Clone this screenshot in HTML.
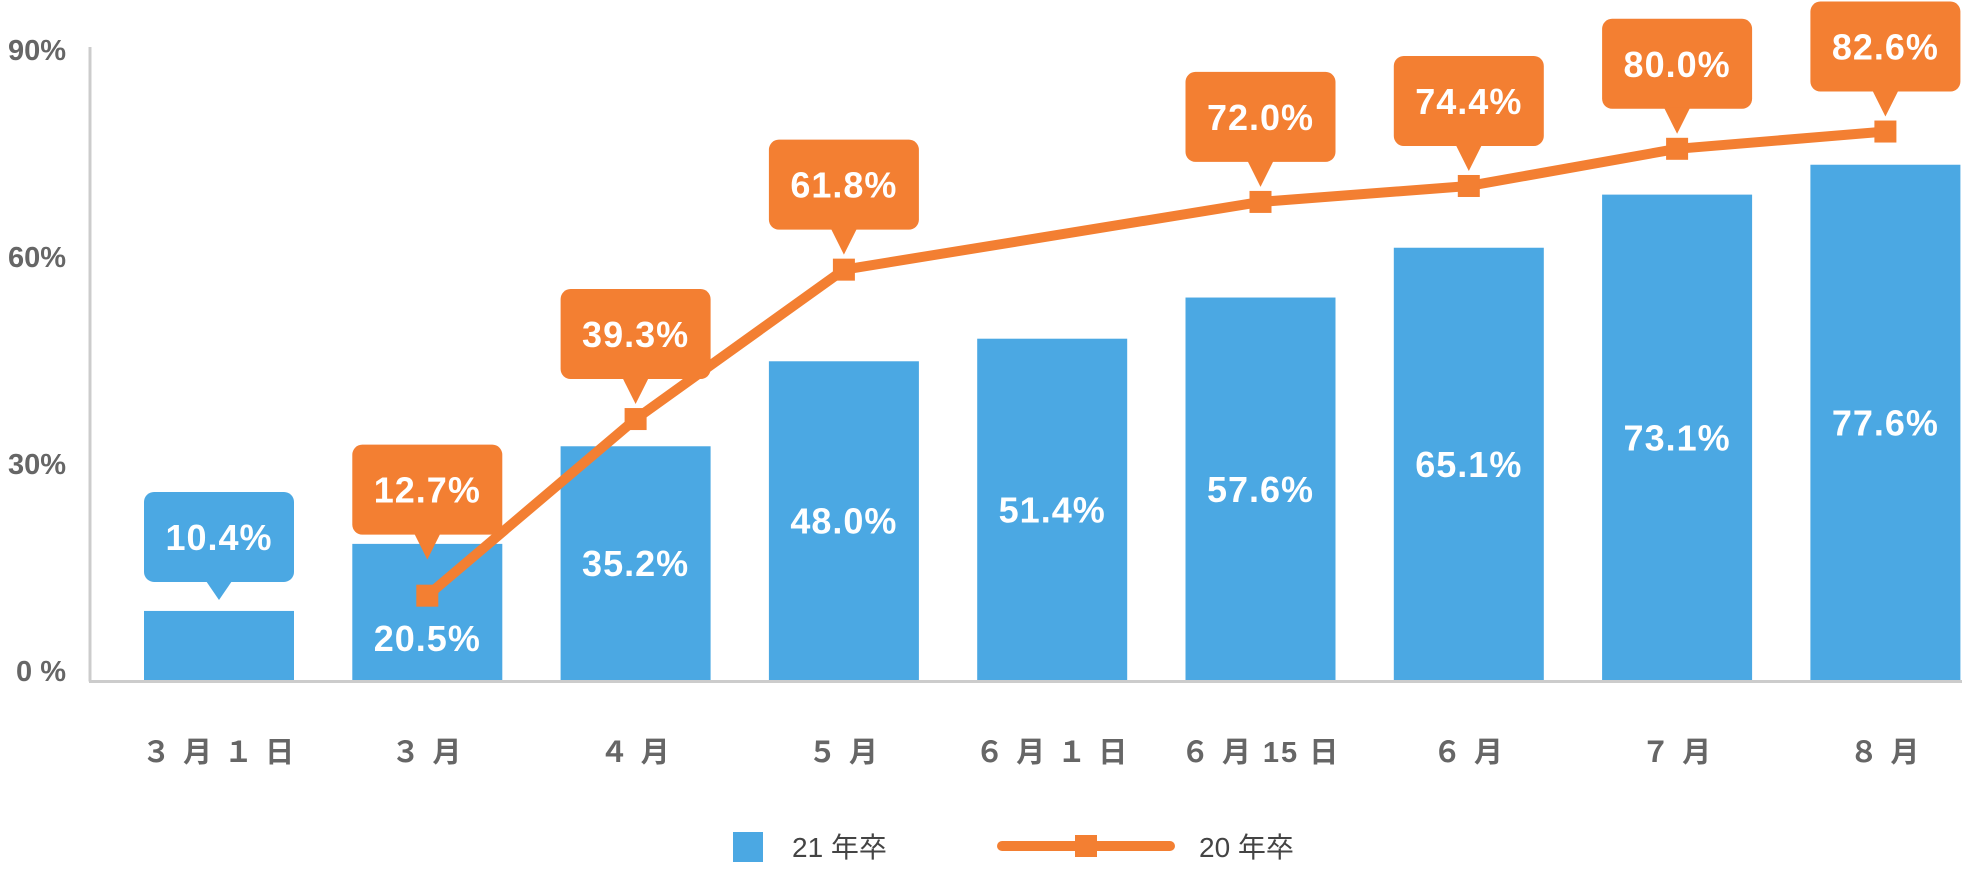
<!DOCTYPE html>
<html><head><meta charset="utf-8"><style>
html,body{margin:0;padding:0;background:#fff;}
svg{display:block;font-family:"Liberation Sans","Noto Sans CJK JP",sans-serif;}
</style></head><body>
<svg id="chart" width="1962" height="870" viewBox="0 0 1962 870" xmlns="http://www.w3.org/2000/svg"></svg>
<script>
const categories = ["３ 月 １ 日","３ 月","４ 月","５ 月","６ 月 １ 日","６ 月 15 日","６ 月","７ 月","８ 月"];
const bars21 = [10.4,20.5,35.2,48.0,51.4,57.6,65.1,73.1,77.6];
const line20 = [null,12.7,39.3,61.8,null,72.0,74.4,80.0,82.6];
const yTicks = [0,30,60,90];
const yTickLabels = ["0 %","30%","60%","90%"];

const NS="http://www.w3.org/2000/svg";
const svg=document.getElementById('chart');
const base=680, ppu=6.64, x0=219, step=208.3, bw=150;
const BLUE="#4BA8E3", ORANGE="#F37F32";
function xs(i){return x0+i*step;}
function ys(v){return base-v*ppu;}
function yLab(v){return 671-v*6.9;}
function mk(tag,attrs,parent){const e=document.createElementNS(NS,tag);for(const k in attrs)e.setAttribute(k,attrs[k]);(parent||svg).appendChild(e);return e;}

let ax=mk('line',{x1:90,y1:47,x2:90,y2:base+1.5,stroke:'#cccccc','stroke-width':3});


let bx=mk('line',{x1:89,y1:base+1.5,x2:1962,y2:base+1.5,stroke:'#cccccc','stroke-width':3});



yTicks.forEach((v,i)=>{
  const t=mk('text',{x:66,y:yLab(v)+10,'text-anchor':'end','font-size':29,'font-weight':'bold',fill:'#666'});
  t.textContent=yTickLabels[i];
  
  
});

categories.forEach((c,i)=>{
  const t=mk('text',{x:xs(i),y:762,'text-anchor':'middle','font-size':29,'font-weight':'bold',fill:'#666','letter-spacing':2});
  t.textContent=c;
  
  
});

bars21.forEach((v,i)=>{
  const r=mk('rect',{x:xs(i)-bw/2,y:ys(v),width:bw,height:base-ys(v),fill:BLUE});
  
  
});

function callout(cx,anchorY,color,label,boxGap,tipGap){
  const g=mk('g',{});
  
  
  const bb=anchorY-boxGap, h=90, w=150;
  mk('rect',{x:cx-w/2,y:bb-h,width:w,height:h,rx:10,fill:color},g);
  mk('polygon',{points:`${cx-13},${bb-1} ${cx+13},${bb-1} ${cx},${anchorY-tipGap}`,fill:color},g);
  const t=mk('text',{x:cx,y:bb-h/2+13,'text-anchor':'middle','font-size':36,'font-weight':'bold',fill:'#fff','letter-spacing':1},g);
  t.textContent=label;
}

bars21.forEach((v,i)=>{
  const lbl=v.toFixed(1)+'%';
  if(i===0){callout(xs(i),ys(v),BLUE,lbl,29,11);return;}
  let cy=(ys(v)+base)/2;
  if(i===1) cy+=26;
  const t=mk('text',{x:xs(i),y:cy+13,'text-anchor':'middle','font-size':36,'font-weight':'bold',fill:'#fff','letter-spacing':1});
  t.textContent=lbl;
  
  
});

const pts=[];
line20.forEach((v,i)=>{if(v!==null)pts.push([xs(i),ys(v),v,i]);});
const pl=mk('polyline',{points:pts.map(p=>p[0]+','+p[1]).join(' '),fill:'none',stroke:ORANGE,'stroke-width':10,'stroke-linejoin':'round'});


pts.forEach(p=>{
  const m=mk('rect',{x:p[0]-11,y:p[1]-11,width:22,height:22,fill:ORANGE});
  
  
  if(p[3]===1) callout(p[0],p[1],ORANGE,p[2].toFixed(1)+'%',61,36);
  else callout(p[0],p[1],ORANGE,p[2].toFixed(1)+'%',40,15);
});

const lg=mk('g',{});


mk('rect',{x:733,y:832,width:30,height:30,fill:BLUE},lg);
let lt1=mk('text',{x:792,y:857,'font-size':28,fill:'#444'},lg);lt1.textContent='21 年卒';
mk('line',{x1:1002,y1:846,x2:1170,y2:846,stroke:ORANGE,'stroke-width':10,'stroke-linecap':'round'},lg);
mk('rect',{x:1075,y:835,width:22,height:22,fill:ORANGE},lg);
let lt2=mk('text',{x:1199,y:857,'font-size':28,fill:'#444'},lg);lt2.textContent='20 年卒';
</script>
</body></html>
